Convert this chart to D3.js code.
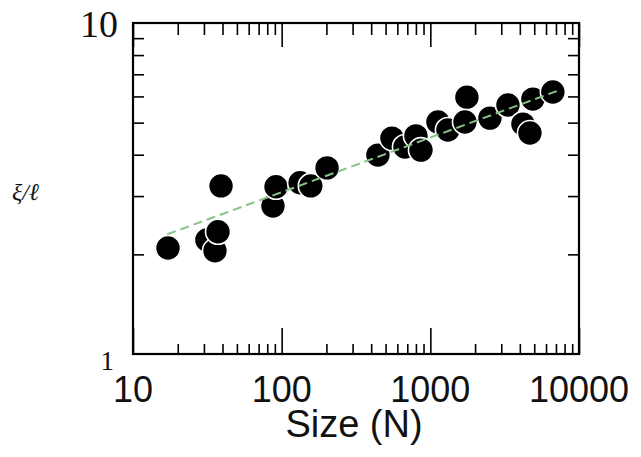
<!doctype html>
<html>
  <head>
    <script src="https://cdnjs.cloudflare.com/ajax/libs/d3/7.8.5/d3.min.js"></script>
    <style>
      body { margin: 0; background: #fff; }
    </style>
  </head>
  <body>
    <svg id="chart" width="641" height="457"></svg>
    <script>
        var sizes  = [17.2, 31.4, 35.6, 37.3, 39.1, 87.4, 91.6, 133, 157, 202,
                      444, 552, 675, 800, 865, 1125, 1313, 1762, 1710, 2518,
                      3327, 4196, 4677, 4898, 6670];
        var ratios = [2.09, 2.21, 2.05, 2.34, 3.22, 2.80, 3.20, 3.29, 3.22, 3.65,
                      3.99, 4.49, 4.22, 4.56, 4.13, 5.02, 4.75, 5.97, 5.02, 5.16,
                      5.65, 4.95, 4.65, 5.89, 6.19];

        // dashed fit line end points
        var fitN = [17, 7600];
        var fitV = [2.30, 6.30];

        var xMajor = [10, 100, 1000, 10000];
        var xMinor = [20,30,40,50,60,70,80,90, 200,300,400,500,600,700,800,900,
                      2000,3000,4000,5000,6000,7000,8000,9000];
        var yMajor = [1, 10];
        var yMinor = [2,3,4,5,6,7,8,9];

        var plotL = 133, plotR = 579, plotT = 23, plotB = 354;

        var svg = d3.select("#chart");

        var x = d3.scaleLog().domain([10, 10000]).range([plotL, plotR]);
        var y = d3.scaleLog().domain([1, 10]).range([plotB, plotT]);

        function styleAxis(g){
            g.select(".domain").remove();
            g.selectAll("text").remove();
            g.selectAll("line").attr("stroke", "#000").attr("stroke-width", 1.6);
        }

        // ticks on all four sides, pointing in
        svg.append("g").attr("transform", "translate(0," + plotB + ")")
            .call(d3.axisBottom(x).tickValues(xMinor).tickSize(-10)).call(styleAxis);
        svg.append("g").attr("transform", "translate(0," + plotB + ")")
            .call(d3.axisBottom(x).tickValues(xMajor).tickSize(-26)).call(styleAxis);
        svg.append("g").attr("transform", "translate(0," + plotT + ")")
            .call(d3.axisTop(x).tickValues(xMinor).tickSize(-12)).call(styleAxis);
        svg.append("g").attr("transform", "translate(0," + plotT + ")")
            .call(d3.axisTop(x).tickValues(xMajor).tickSize(-24)).call(styleAxis);
        svg.append("g").attr("transform", "translate(" + plotL + ",0)")
            .call(d3.axisLeft(y).tickValues(yMinor).tickSize(-11)).call(styleAxis);
        svg.append("g").attr("transform", "translate(" + plotR + ",0)")
            .call(d3.axisRight(y).tickValues(yMinor).tickSize(-11)).call(styleAxis);

        // frame
        svg.append("rect")
            .attr("x", plotL).attr("y", plotT)
            .attr("width", plotR - plotL).attr("height", plotB - plotT)
            .attr("fill", "none").attr("stroke", "#000").attr("stroke-width", 2.2);

        // points
        var pts = sizes.map((n, i) => ({n: n, v: ratios[i]}));
        svg.append("g").selectAll("circle")
            .data(pts)
            .enter()
            .append("circle")
                .attr("cx", d => x(d.n))
                .attr("cy", d => y(d.v))
                .attr("r", 12.5)
                .attr("fill", "#000")
                .attr("stroke", "#fff")
                .attr("stroke-width", 1.6);

        // fit
        svg.append("path")
            .datum(fitN.map((n, i) => [n, fitV[i]]))
            .attr("d", d3.line().x(d => x(d[0])).y(d => y(d[1])))
            .attr("fill", "none")
            .attr("stroke", "#86c386")
            .attr("stroke-width", 2)
            .attr("stroke-dasharray", "9,5");

        // x tick labels
        svg.append("g").selectAll("text")
            .data(xMajor)
            .enter()
            .append("text")
                .attr("x", d => x(d))
                .attr("y", plotB + 48)
                .attr("text-anchor", "middle")
                .style("font-family", "Liberation Sans, Arial, sans-serif")
                .style("font-size", "36px")
                .style("fill", "#111")
                .text(d => d);

        // y tick labels (serif, as in the original)
        svg.append("text")
            .attr("x", plotL - 15).attr("y", y(10) + 14)
            .attr("text-anchor", "end")
            .style("font-family", "Liberation Serif, Times New Roman, serif")
            .style("font-size", "38px")
            .style("fill", "#111")
            .text(yMajor[1]);
        svg.append("text")
            .attr("x", plotL - 19).attr("y", y(1) + 16)
            .attr("text-anchor", "end")
            .style("font-family", "Liberation Serif, Times New Roman, serif")
            .style("font-size", "27px")
            .style("fill", "#111")
            .text(yMajor[0]);

        // axis titles
        svg.append("text")
            .attr("x", 354).attr("y", 437)
            .attr("text-anchor", "middle")
            .style("font-family", "Liberation Sans, Arial, sans-serif")
            .style("font-size", "38px")
            .style("fill", "#111")
            .text("Size (N)");

        svg.append("text")
            .attr("x", 12).attr("y", 200)
            .style("font-family", "Liberation Serif, Times New Roman, serif")
            .style("font-style", "italic")
            .style("font-size", "24px")
            .style("fill", "#111")
            .text("ξ/ℓ");
    </script>
  </body>
</html>
